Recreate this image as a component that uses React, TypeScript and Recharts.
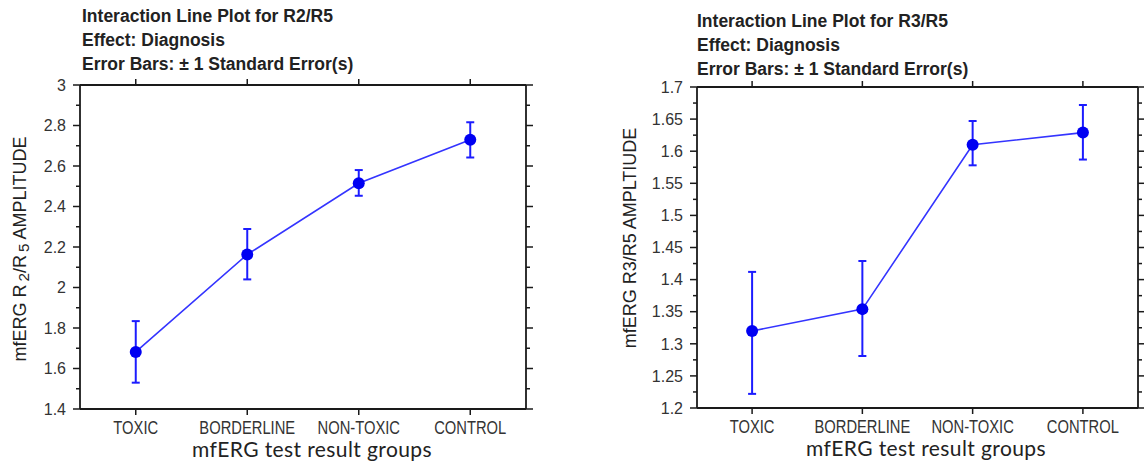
import React from 'react';
import { ComposedChart, Line, XAxis, YAxis, ErrorBar } from 'recharts';

// ---------- data ----------
const groups = ['TOXIC', 'BORDERLINE', 'NON-TOXIC', 'CONTROL'];

const r2r5Mean = [1.682, 2.163, 2.515, 2.73];
const r2r5Low = [1.53, 2.04, 2.453, 2.642];
const r2r5High = [1.834, 2.289, 2.58, 2.816];

const r3r5Mean = [1.32, 1.354, 1.61, 1.629];
const r3r5Low = [1.222, 1.281, 1.578, 1.587];
const r3r5High = [1.412, 1.429, 1.647, 1.672];

const r2r5Ticks = [1.4, 1.5, 1.6, 1.7, 1.8, 1.9, 2, 2.1, 2.2, 2.3, 2.4, 2.5, 2.6, 2.7, 2.8, 2.9, 3];
const r2r5Labels = [1.4, 1.6, 1.8, 2, 2.2, 2.4, 2.6, 2.8, 3];

const r3r5Ticks = [1.2, 1.225, 1.25, 1.275, 1.3, 1.325, 1.35, 1.375, 1.4, 1.425, 1.45, 1.475, 1.5, 1.525, 1.55, 1.575, 1.6, 1.625, 1.65, 1.675, 1.7];
const r3r5Labels = [1.2, 1.25, 1.3, 1.35, 1.4, 1.45, 1.5, 1.55, 1.6, 1.65, 1.7];

const r2r5Title = ['Interaction Line Plot for R2/R5', 'Effect: Diagnosis', 'Error Bars: \u00b1 1 Standard Error(s)'];
const r3r5Title = ['Interaction Line Plot for R3/R5', 'Effect: Diagnosis', 'Error Bars: \u00b1 1 Standard Error(s)'];
const xTitle = 'mfERG test result groups';

// ---------- style ----------
const AXIS = '#1a1a1a';
const LINE = '#3434ff';
const DOT = '#0000f2';
const ERR = '#1c1cff';
const ARIAL = '"Liberation Sans", Arial, sans-serif';

function buildRows(mean: number[], low: number[], high: number[]) {
  return groups.map((g, i) => ({
    group: g,
    mean: mean[i],
    err: [mean[i] - low[i], high[i] - mean[i]],
  }));
}

function makeYTick(side: 'left' | 'right', labels: number[]) {
  return (props: any) => {
    const { x, y, payload } = props;
    const v = payload.value as number;
    const major = labels.some((m) => Math.abs(m - v) < 1e-6);
    const len = major ? 7 : 4;
    const dir = side === 'left' ? -1 : 1;
    return (
      <g>
        <line x1={x} y1={y} x2={x + dir * len} y2={y} stroke={AXIS} strokeWidth={1.5} />
        {side === 'left' && major ? (
          <text x={x - 14} y={y} dy="0.36em" textAnchor="end" fontFamily={ARIAL} fontSize={16} fill="#333">
            {String(v)}
          </text>
        ) : null}
      </g>
    );
  };
}

const XTickBottom = (props: any) => {
  const { x, y, payload } = props;
  return (
    <g>
      <line x1={x} y1={y} x2={x} y2={y + 6} stroke={AXIS} strokeWidth={1.5} />
      <text
        x={0}
        y={0}
        transform={`translate(${x},${y + 25}) scale(0.82,1)`}
        textAnchor="middle"
        fontFamily={ARIAL}
        fontSize={18}
        fill="#333"
      >
        {payload.value}
      </text>
    </g>
  );
};

const XTickTop = (props: any) => {
  const { x, y } = props;
  return <line x1={x} y1={y} x2={x} y2={y - 6} stroke={AXIS} strokeWidth={1.5} />;
};

type PlotProps = {
  left: number;
  width: number;
  box: { top: number; right: number; bottom: number; left: number };
  pad: number;
  rows: any[];
  domain: [number, number];
  ticks: number[];
  labels: number[];
  title: string[];
  titleLeft: number;
  titleTop: number;
  yTitle: React.ReactNode;
  yTitleX: number;
  yTitleY: number;
  xTitleX: number;
};

function Plot(p: PlotProps) {
  const axisY = 468 - p.box.bottom;
  return (
    <div style={{ position: 'absolute', left: p.left, top: 0, width: p.width, height: 468 }}>
      <div
        style={{
          position: 'absolute',
          left: p.titleLeft,
          top: p.titleTop,
          fontFamily: ARIAL,
          fontWeight: 700,
          fontSize: 17.5,
          lineHeight: '24px',
          color: '#222',
          whiteSpace: 'nowrap',
        }}
      >
        {p.title.map((t) => (
          <div key={t}>{t}</div>
        ))}
      </div>
      <div
        style={{
          position: 'absolute',
          left: p.yTitleX,
          top: p.yTitleY,
          transform: 'translate(-50%, -50%) rotate(-90deg)',
          fontFamily: ARIAL,
          fontSize: 18,
          lineHeight: 1,
          color: '#222',
          whiteSpace: 'nowrap',
        }}
      >
        {p.yTitle}
      </div>
      <div
        style={{
          position: 'absolute',
          left: p.xTitleX,
          top: axisY + 30,
          transform: 'translateX(-50%)',
          fontFamily: 'Lato, "Open Sans", sans-serif',
          fontSize: 21,
          letterSpacing: 0.4,
          lineHeight: '19px',
          color: '#222',
          whiteSpace: 'nowrap',
        }}
      >
        {xTitle}
      </div>
      <div style={{ position: 'absolute', left: 0, top: 0 }}>
        <ComposedChart width={p.width} height={468} data={p.rows} margin={{ top: 0, right: 0, bottom: 0, left: 0 }}>
          <XAxis
            xAxisId="b"
            dataKey="group"
            type="category"
            orientation="bottom"
            height={p.box.bottom}
            padding={{ left: p.pad, right: p.pad }}
            axisLine={{ stroke: AXIS, strokeWidth: 1.8 }}
            tickLine={false}
            tickSize={0}
            tickMargin={0}
            interval={0}
            tick={XTickBottom}
          />
          <XAxis
            xAxisId="t"
            dataKey="group"
            type="category"
            orientation="top"
            height={p.box.top}
            padding={{ left: p.pad, right: p.pad }}
            axisLine={{ stroke: AXIS, strokeWidth: 1.8 }}
            tickLine={false}
            tickSize={0}
            tickMargin={0}
            interval={0}
            tick={XTickTop}
          />
          <YAxis
            yAxisId="l"
            orientation="left"
            type="number"
            width={p.box.left}
            domain={p.domain}
            ticks={p.ticks}
            interval={0}
            axisLine={{ stroke: AXIS, strokeWidth: 1.8 }}
            tickLine={false}
            tickSize={0}
            tickMargin={0}
            tick={makeYTick('left', p.labels)}
          />
          <YAxis
            yAxisId="r"
            orientation="right"
            type="number"
            width={p.box.right}
            domain={p.domain}
            ticks={p.ticks}
            interval={0}
            axisLine={{ stroke: AXIS, strokeWidth: 1.8 }}
            tickLine={false}
            tickSize={0}
            tickMargin={0}
            tick={makeYTick('right', p.labels)}
          />
          <Line
            xAxisId="t"
            yAxisId="r"
            dataKey="mean"
            stroke="none"
            dot={false}
            activeDot={false}
            isAnimationActive={false}
          />
          <Line
            xAxisId="b"
            yAxisId="l"
            dataKey="mean"
            type="linear"
            stroke={LINE}
            strokeWidth={1.6}
            dot={{ r: 6, fill: DOT, stroke: DOT, strokeWidth: 0 }}
            activeDot={false}
            isAnimationActive={false}
          >
            <ErrorBar dataKey="err" direction="y" width={4} stroke={ERR} strokeWidth={2} isAnimationActive={false} />
          </Line>
        </ComposedChart>
      </div>
    </div>
  );
}

const subStyle: React.CSSProperties = { fontSize: '0.85em', verticalAlign: '-0.22em', marginLeft: 3 };

export default function App() {
  const rowsA = buildRows(r2r5Mean, r2r5Low, r2r5High);
  const rowsB = buildRows(r3r5Mean, r3r5Low, r3r5High);
  return (
    <div style={{ position: 'absolute', left: 0, top: 0, width: 1144, height: 468, background: '#fff', overflow: 'hidden' }}>
      <Plot
        left={0}
        width={572}
        box={{ top: 85, right: 46, bottom: 59, left: 80 }}
        pad={55.75}
        rows={rowsA}
        domain={[1.4, 3]}
        ticks={r2r5Ticks}
        labels={r2r5Labels}
        title={r2r5Title}
        titleLeft={82}
        titleTop={4}
        yTitle={
          <span>
            mfERG R<span style={subStyle}>2</span>/R<span style={subStyle}>5</span> AMPLITUDE
          </span>
        }
        yTitleX={21}
        yTitleY={249}
        xTitleX={312}
      />
      <Plot
        left={580}
        width={564}
        box={{ top: 87, right: 6, bottom: 60, left: 117 }}
        pad={55.1}
        rows={rowsB}
        domain={[1.2, 1.7]}
        ticks={r3r5Ticks}
        labels={r3r5Labels}
        title={r3r5Title}
        titleLeft={117}
        titleTop={9}
        yTitle={<span>mfERG R3/R5 AMPLTIUDE</span>}
        yTitleX={50}
        yTitleY={238}
        xTitleX={346}
      />
    </div>
  );
}
